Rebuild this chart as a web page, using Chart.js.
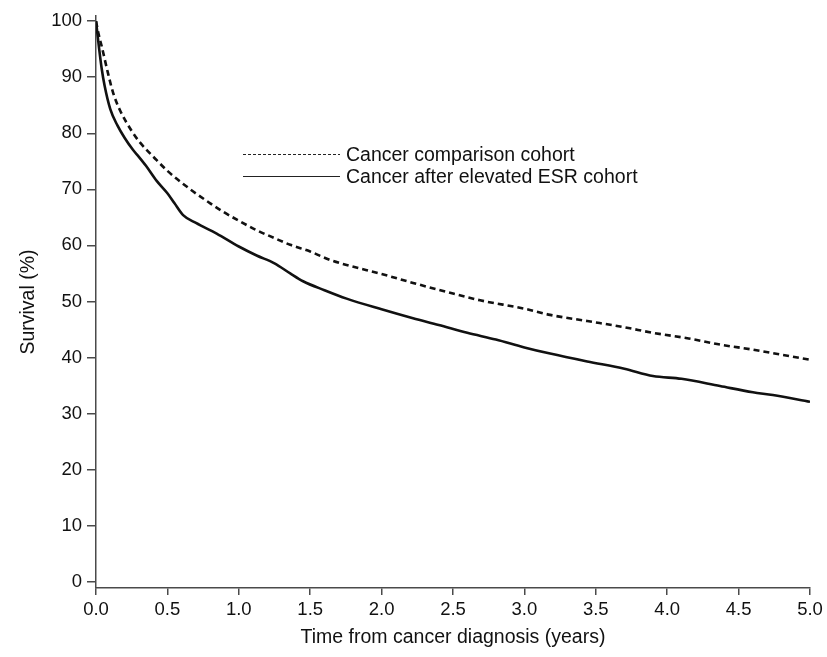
<!DOCTYPE html>
<html>
<head>
<meta charset="utf-8">
<script src="https://cdn.jsdelivr.net/npm/chart.js@4"></script>
<style>
  html,body{margin:0;padding:0;background:#fff;}
  #wrap{width:827px;height:657px;}
</style>
</head>
<body>
<div id="wrap"><canvas id="km" width="827" height="657"></canvas></div>
<script>
// survival curves (years, %)
const seriesNames = ['Cancer comparison cohort', 'Cancer after elevated ESR cohort'];

const compT = [0, 0.02, 0.04, 0.086, 0.12, 0.168, 0.25, 0.3, 0.425, 0.5, 0.66, 0.8, 0.89, 1.0, 1.125, 1.25, 1.36, 1.5, 1.64, 1.755, 2.0, 2.22, 2.5, 2.69, 3.0, 3.18, 3.44, 3.7, 3.9, 4.15, 4.37, 4.6, 4.8, 5.0];
const compS = [100, 97.5, 95.5, 90.5, 87.2, 84.1, 80.4, 78.6, 75.2, 73.3, 70.0, 67.5, 66.0, 64.4, 62.7, 61.3, 60.1, 58.9, 57.4, 56.5, 54.9, 53.3, 51.4, 50.2, 48.7, 47.6, 46.5, 45.4, 44.4, 43.4, 42.3, 41.4, 40.5, 39.6];

const esrT = [0, 0.02, 0.04, 0.06, 0.1, 0.15, 0.2, 0.26, 0.3, 0.35, 0.425, 0.5, 0.55, 0.61, 0.7, 0.845, 1.0, 1.125, 1.25, 1.36, 1.45, 1.6, 1.755, 2.0, 2.22, 2.4, 2.6, 2.8, 3.0, 3.18, 3.44, 3.7, 3.9, 4.1, 4.37, 4.6, 4.74, 5.0];
const esrS = [100, 95.5, 91.5, 88.5, 84.3, 81.4, 79.2, 77, 75.8, 74.2, 71.5, 69.3, 67.5, 65.4, 64, 62.1, 59.8, 58.2, 56.8, 55, 53.6, 52.0, 50.5, 48.6, 47.0, 45.8, 44.4, 43.2, 41.8, 40.7, 39.3, 38, 36.7, 36.2, 34.9, 33.8, 33.3, 32.1];

const xTicks = [0, 0.5, 1, 1.5, 2, 2.5, 3, 3.5, 4, 4.5, 5];
const yTicks = [0, 10, 20, 30, 40, 50, 60, 70, 80, 90, 100];

const FONT = 'Liberation Sans, Arial, sans-serif';
const AXIS = '#4a4a4a';

const pts = (t, s) => t.map((v, i) => ({ x: v, y: s[i] }));

// legend drawn at a fixed spot inside the plot, like the original
const insetLegend = {
  id: 'insetLegend',
  afterDraw(chart){
    const ctx = chart.ctx;
    const x0 = 243, x1 = 340, tx = 346;
    const rows = [154, 176];
    ctx.save();
    ctx.font = '19.5px ' + FONT;
    ctx.fillStyle = '#111';
    ctx.textBaseline = 'middle';
    chart.data.datasets.forEach((ds, i) => {
      ctx.strokeStyle = '#222';
      ctx.lineWidth = 1;
      ctx.setLineDash(i === 0 ? [3, 2] : []);
      ctx.beginPath();
      ctx.moveTo(x0, rows[i] + 0.5);
      ctx.lineTo(x1, rows[i] + 0.5);
      ctx.stroke();
      ctx.setLineDash([]);
      ctx.fillText(ds.label, tx, rows[i] + 2);
    });
    ctx.restore();
  }
};

new Chart(document.getElementById('km'), {
  type: 'line',
  data: {
    datasets: [
      { label: seriesNames[0], data: pts(compT, compS), borderColor: '#111', borderWidth: 2.6, borderDash: [6, 4], pointRadius: 0, cubicInterpolationMode: 'monotone', fill: false },
      { label: seriesNames[1], data: pts(esrT, esrS), borderColor: '#111', borderWidth: 2.6, pointRadius: 0, cubicInterpolationMode: 'monotone', fill: false }
    ]
  },
  options: {
    responsive: false,
    animation: false,
    layout: { padding: { left: 0, right: 17, top: 16, bottom: 0 } },
    plugins: { legend: { display: false }, tooltip: { enabled: false } },
    scales: {
      x: {
        type: 'linear', min: 0, max: 5,
        afterBuildTicks: s => { s.ticks = xTicks.map(v => ({ value: v })); },
        afterFit: s => { s.height = 69; },
        grid: { drawOnChartArea: false, drawTicks: true, tickLength: 7, color: AXIS, lineWidth: 1.5 },
        border: { color: AXIS, width: 1.5 },
        ticks: { color: '#111', font: { family: FONT, size: 18.5 }, padding: 4, maxRotation: 0, callback: v => v.toFixed(1) },
        title: { display: true, text: 'Time from cancer diagnosis (years)', color: '#111', font: { family: FONT, size: 19.5 }, padding: { top: 2, bottom: 8 } }
      },
      y: {
        type: 'linear', min: -1.12, max: 100.9,
        afterBuildTicks: s => { s.ticks = yTicks.map(v => ({ value: v })); },
        afterFit: s => { s.width = 96; },
        grid: { drawOnChartArea: false, drawTicks: true, tickLength: 9, color: AXIS, lineWidth: 1.5 },
        border: { color: AXIS, width: 1.5 },
        ticks: { color: '#111', font: { family: FONT, size: 18.5 }, padding: 5 },
        title: { display: true, text: 'Survival (%)', color: '#111', font: { family: FONT, size: 19.5 }, padding: { top: 17, bottom: 0 } }
      }
    }
  },
  plugins: [insetLegend]
});
</script>
</body>
</html>
